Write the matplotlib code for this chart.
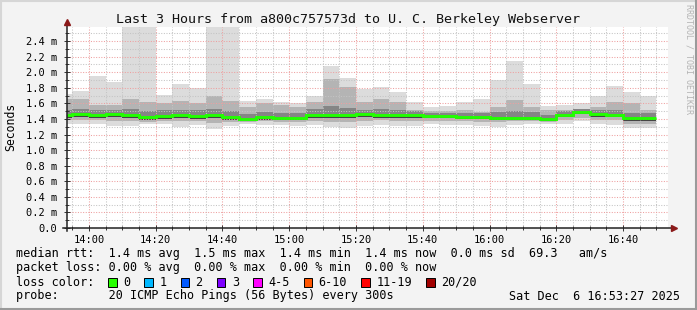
import numpy as np
import matplotlib.pyplot as plt
from matplotlib.lines import Line2D
from matplotlib.patches import Rectangle

# rtt values in ms, one entry per 5 minute step (first one is the partial step before 13:55)
median = [1.45, 1.46, 1.45, 1.46, 1.45, 1.42, 1.44, 1.45, 1.44, 1.45, 1.43, 1.40,
          1.42, 1.41, 1.41, 1.45, 1.45, 1.45, 1.46, 1.45, 1.45, 1.45, 1.44, 1.44,
          1.43, 1.43, 1.41, 1.41, 1.41, 1.40, 1.45, 1.49, 1.46, 1.45, 1.41, 1.41]
ping_max = [1.72, 1.76, 1.95, 1.87, 2.80, 2.80, 1.71, 1.85, 1.80, 2.80, 2.80, 1.63,
            1.65, 1.62, 1.61, 1.69, 2.08, 1.93, 1.78, 1.81, 1.75, 1.62, 1.55, 1.57,
            1.62, 1.65, 1.90, 2.14, 1.85, 1.57, 1.58, 1.60, 1.69, 1.82, 1.75, 1.70]
upper2 = [1.66, 1.66, 1.58, 1.58, 1.65, 1.62, 1.60, 1.63, 1.60, 1.69, 1.63, 1.55,
          1.60, 1.58, 1.55, 1.62, 1.91, 1.81, 1.62, 1.65, 1.62, 1.51, 1.50, 1.50,
          1.51, 1.49, 1.55, 1.64, 1.55, 1.51, 1.51, 1.53, 1.55, 1.62, 1.60, 1.52]
upper3 = [1.52, 1.53, 1.51, 1.52, 1.53, 1.50, 1.51, 1.52, 1.51, 1.53, 1.50, 1.46,
          1.49, 1.48, 1.48, 1.53, 1.56, 1.54, 1.52, 1.53, 1.52, 1.50, 1.48, 1.48,
          1.47, 1.47, 1.49, 1.50, 1.49, 1.45, 1.50, 1.53, 1.51, 1.51, 1.48, 1.47]
lower3 = [1.41, 1.42, 1.41, 1.42, 1.41, 1.39, 1.40, 1.41, 1.40, 1.41, 1.39, 1.38,
          1.39, 1.38, 1.38, 1.41, 1.41, 1.41, 1.42, 1.41, 1.41, 1.41, 1.41, 1.41,
          1.40, 1.40, 1.38, 1.38, 1.38, 1.37, 1.42, 1.46, 1.43, 1.42, 1.37, 1.37]
lower2 = [1.38, 1.38, 1.38, 1.37, 1.37, 1.36, 1.37, 1.37, 1.37, 1.35, 1.36, 1.36,
          1.37, 1.36, 1.36, 1.37, 1.36, 1.36, 1.37, 1.38, 1.37, 1.37, 1.37, 1.37,
          1.37, 1.36, 1.36, 1.37, 1.37, 1.36, 1.38, 1.41, 1.39, 1.38, 1.34, 1.34]
ping_min = [1.33, 1.33, 1.33, 1.31, 1.31, 1.33, 1.33, 1.30, 1.32, 1.27, 1.31, 1.33,
            1.32, 1.32, 1.31, 1.32, 1.30, 1.29, 1.31, 1.32, 1.31, 1.31, 1.33, 1.32,
            1.32, 1.31, 1.30, 1.32, 1.33, 1.33, 1.33, 1.37, 1.34, 1.32, 1.29, 1.29]

xtick_labels = ['14:00', '14:20', '14:40', '15:00', '15:20', '15:40', '16:00', '16:20', '16:40']
ytick_labels = ['0.0', '0.2 m', '0.4 m', '0.6 m', '0.8 m', '1.0 m', '1.2 m', '1.4 m',
                '1.6 m', '1.8 m', '2.0 m', '2.2 m', '2.4 m']

loss_labels = ['0', '1', '2', '3', '4-5', '6-10', '11-19', '20/20']
loss_colors = ['#26ff00', '#00b8ff', '#0059ff', '#7e00ff', '#ff00ff', '#ff5500', '#ff0000', '#a10000']

title = 'Last 3 Hours from a800c757573d to U. C. Berkeley Webserver'
rtt_line = 'median rtt:  1.4 ms avg  1.5 ms max  1.4 ms min  1.4 ms now  0.0 ms sd  69.3   am/s'
loss_line = 'packet loss: 0.00 % avg  0.00 % max  0.00 % min  0.00 % now'
probe_line = 'probe:       20 ICMP Echo Pings (56 Bytes) every 300s'
stamp = 'Sat Dec  6 16:53:27 2025'

# time axis in minutes relative to 14:00, window 13:53:27 .. 16:53:27
t_start, t_end = -6.55, 173.45
edges = np.concatenate([[t_start], np.arange(-5, 171, 5)])

W, H = 697, 310
mono = 'DejaVu Sans Mono'

fig = plt.figure(figsize=(W / 100, H / 100), dpi=100)
fig.patch.set_facecolor('#f3f3f3')
ax = fig.add_axes([67 / W, (H - 228) / H, 601 / W, 201 / H])
ax.set_facecolor('white')
ax.set_xlim(t_start, t_end)
ax.set_ylim(0, 2.58)

# smoke bands, outer to inner
ax.stairs(ping_max, edges, baseline=ping_min, fill=True, color='#dcdcdc', lw=0, zorder=1)
ax.stairs(upper2, edges, baseline=lower2, fill=True, color='#b4b4b4', lw=0, zorder=1.1)
ax.stairs(upper3, edges, baseline=median, fill=True, color='#858585', lw=0, zorder=1.2)
ax.stairs(median, edges, baseline=lower3, fill=True, color='#444444', lw=0, zorder=1.2)
ax.stairs(median, edges, baseline=None, color='#22ff00', lw=2.1, zorder=4)

# grid
xmaj = np.arange(0, 161, 20)
ax.set_xticks(xmaj)
ax.set_xticklabels(xtick_labels)
ax.set_xticks(np.arange(-5, 171, 5), minor=True)
ax.set_yticks(np.arange(0, 2.41, 0.2))
ax.set_yticklabels(ytick_labels)
ax.set_yticks(np.arange(0.1, 2.51, 0.1), minor=True)
ax.set_axisbelow(False)
ax.grid(which='major', color='#eea0a0', linestyle=(0, (1, 1.5)), lw=0.75)
ax.grid(which='minor', color='#c4c4c4', linestyle=(0, (1, 1.5)), lw=0.75)
ax.tick_params(which='major', direction='inout', length=4, width=0.7, color='#333333',
               labelsize=7.5, pad=3)
ax.tick_params(which='minor', direction='inout', length=3, width=0.7, color='#333333')
ax.tick_params(axis='y', pad=5)
for lab in ax.get_xticklabels() + ax.get_yticklabels():
    lab.set_family(mono)
for s in ax.spines.values():
    s.set_visible(False)

# axes with arrows
ax.plot([-4 / 601, 605 / 601], [0, 0], transform=ax.transAxes, color='#222222', lw=1.1,
        clip_on=False, zorder=5)
ax.plot([0, 0], [-3 / 201, 204 / 201], transform=ax.transAxes, color='#222222', lw=1.1,
        clip_on=False, zorder=5)
ax.plot([607 / 601], [0], marker='>', ms=4.5, color='#8b1a1a', transform=ax.transAxes,
        clip_on=False, zorder=6)
ax.plot([0], [206 / 201], marker='^', ms=4.5, color='#8b1a1a', transform=ax.transAxes,
        clip_on=False, zorder=6)

fig.text(348 / W, 1 - 19 / H, title, family=mono, fontsize=9.6, ha='center', va='center',
         color='#111111')
fig.text(11 / W, 1 - 127 / H, 'Seconds', family=mono, fontsize=8.3, rotation=90,
         ha='center', va='center')
fig.text(689 / W, 1 - 4 / H, 'RRDTOOL / TOBI OETIKER', family=mono, fontsize=6,
         rotation=270, ha='center', va='top', color='#b4b4b4')

# legend block
rows = [254, 268, 282, 296]
fs = 8.5
fig.text(16 / W, 1 - rows[0] / H, rtt_line, family=mono, fontsize=fs, va='center')
fig.text(16 / W, 1 - rows[1] / H, loss_line, family=mono, fontsize=fs, va='center')
fig.text(16 / W, 1 - rows[2] / H, 'loss color:', family=mono, fontsize=fs, va='center')
fig.text(16 / W, 1 - rows[3] / H, probe_line, family=mono, fontsize=fs, va='center')
fig.text(680 / W, 1 - rows[3] / H, stamp, family=mono, fontsize=fs, va='center', ha='right')

cw = 7.1
x = 108
for lab, col in zip(loss_labels, loss_colors):
    fig.add_artist(Rectangle((x / W, 1 - (rows[2] + 4.5) / H), 8.5 / W, 9 / H,
                             transform=fig.transFigure, facecolor=col,
                             edgecolor='black', lw=0.7))
    fig.text((x + 15) / W, 1 - rows[2] / H, lab, family=mono, fontsize=fs, va='center')
    x += 15 + cw * len(lab) + 2 * cw

# 3d frame
fig.add_artist(Line2D([0, 1], [1 - 1 / H, 1 - 1 / H], transform=fig.transFigure,
                      color='#d6d6d6', lw=1.5))
fig.add_artist(Line2D([1 / W, 1 / W], [0, 1], transform=fig.transFigure,
                      color='#d6d6d6', lw=1.5))
fig.add_artist(Line2D([0, 1], [1 / H, 1 / H], transform=fig.transFigure,
                      color='#9a9a9a', lw=1.5))
fig.add_artist(Line2D([1 - 1 / W, 1 - 1 / W], [0, 1], transform=fig.transFigure,
                      color='#9a9a9a', lw=1.5))

fig.savefig('out.png', dpi=100, facecolor=fig.get_facecolor())
